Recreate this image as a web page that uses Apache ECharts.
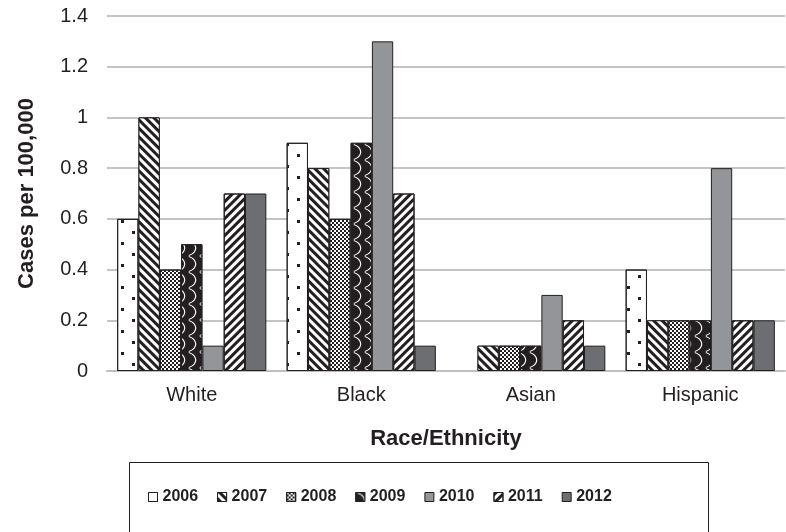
<!DOCTYPE html>
<html>
<head>
<meta charset="utf-8">
<script src="https://cdn.jsdelivr.net/npm/echarts@6/dist/echarts.min.js"></script>
<style>html,body{margin:0;padding:0;background:#fff;}#c{width:786px;height:532px;}</style>
</head>
<body>
<div id="c"></div>
<script>
const categories = ['White', 'Black', 'Asian', 'Hispanic'];
const years = ['2006', '2007', '2008', '2009', '2010', '2011', '2012'];
const v2006 = [0.6, 0.9, null, 0.4];
const v2007 = [1.0, 0.8, 0.1, 0.2];
const v2008 = [0.4, 0.6, 0.1, 0.2];
const v2009 = [0.5, 0.9, 0.1, 0.2];
const v2010 = [0.1, 1.3, 0.3, 0.8];
const v2011 = [0.7, 0.7, 0.2, 0.2];
const v2012 = [0.7, 0.1, 0.1, 0.2];
const yTicks = [0, 0.2, 0.4, 0.6, 0.8, 1, 1.2, 1.4];

const values = [v2006, v2007, v2008, v2009, v2010, v2011, v2012];
const INK = '#231f20';
const styles = [
  { color: '#ffffff', decal: { symbol: 'rect', symbolSize: 1, color: INK, dashArrayX: [[3, 19], [0, 11, 3, 8]], dashArrayY: [3, 8] } },
  { color: INK, decal: { symbol: 'rect', symbolSize: 1, color: '#ffffff', dashArrayX: [1, 0], dashArrayY: [3, 3], rotation: Math.PI / 4 } },
  { color: '#ffffff', decal: { symbol: 'rect', symbolSize: 1, color: INK, dashArrayX: [[2, 2], [0, 2, 2, 0]], dashArrayY: [2, 0] } },
  { color: INK, decal: { symbol: 'path://M0,0 C10,3 10,13 0,16 L0,15 C8.5,12 8.5,4 0,1 Z', symbolSize: 1, color: '#ffffff', dashArrayX: [11, 0], dashArrayY: [16, 0] } },
  { color: '#939598' },
  { color: '#ffffff', decal: { symbol: 'rect', symbolSize: 1, color: INK, dashArrayX: [1, 0], dashArrayY: [3, 3], rotation: -Math.PI / 4 } },
  { color: '#6d6e71' }
];

const chart = echarts.init(document.getElementById('c'), null, { renderer: 'canvas' });
const FONT = '"Liberation Sans", Arial, sans-serif';
chart.setOption({
  animation: false,
  backgroundColor: '#ffffff',
  textStyle: { fontFamily: FONT },
  grid: { left: 107, right: 1, top: 16, bottom: 161, containLabel: false },
  legend: {
    left: 143, top: 484, itemWidth: 9, itemHeight: 9, itemGap: 19,
    icon: 'rect',
    textStyle: { fontFamily: FONT, fontWeight: 'bold', fontSize: 16, color: '#231f20' },
    itemStyle: { borderColor: INK, borderWidth: 1 },
    data: years
  },
  graphic: [{
    type: 'rect', left: 127, top: 460, silent: true,
    shape: { width: 579, height: 70 },
    style: { fill: 'none', stroke: INK, lineWidth: 1 }
  }],
  xAxis: {
    type: 'category', data: categories,
    name: 'Race/Ethnicity', nameLocation: 'middle', nameGap: 57,
    nameTextStyle: { fontFamily: FONT, fontWeight: 'bold', fontSize: 22, color: '#231f20' },
    axisLine: { lineStyle: { color: '#bfbfbf', width: 2 } },
    axisTick: { show: false },
    axisLabel: { fontFamily: FONT, fontSize: 20, color: '#231f20', margin: 14 }
  },
  yAxis: {
    type: 'value', min: 0, max: 1.4, interval: 0.2,
    name: 'Cases per 100,000', nameLocation: 'middle', nameGap: 69, nameRotate: 90,
    nameTextStyle: { fontFamily: FONT, fontWeight: 'bold', fontSize: 22, color: '#231f20' },
    axisLine: { show: false }, axisTick: { show: false },
    splitLine: { lineStyle: { color: '#c4c4c4', width: 2 } },
    axisLabel: { fontFamily: FONT, fontSize: 20, color: '#231f20', margin: 19,
      formatter: v => String(Math.round(v * 10) / 10) }
  },
  series: years.map((y, i) => {
    const is = { color: styles[i].color, borderColor: INK, borderWidth: 1 };
    if (styles[i].decal) is.decal = styles[i].decal;
    return { name: y, type: 'bar', data: values[i], barGap: '0%', barCategoryGap: '12%', itemStyle: is };
  })
});
</script>
</body>
</html>
